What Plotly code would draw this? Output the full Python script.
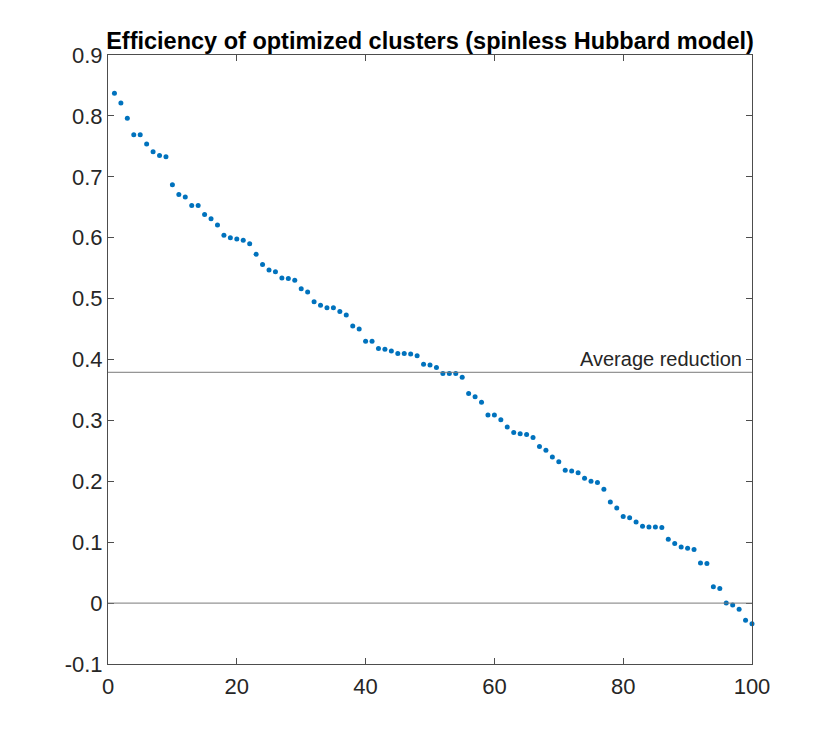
import plotly.graph_objects as go

cluster_index = list(range(1, 101))
efficiency = [
    0.837, 0.821, 0.796, 0.769, 0.769, 0.754, 0.741, 0.735, 0.733, 0.687,
    0.671, 0.667, 0.653, 0.653, 0.638, 0.631, 0.621, 0.604, 0.600, 0.598,
    0.596, 0.590, 0.573, 0.556, 0.547, 0.544, 0.534, 0.533, 0.530, 0.516,
    0.511, 0.495, 0.489, 0.485, 0.485, 0.479, 0.473, 0.455, 0.450, 0.430,
    0.430, 0.418, 0.417, 0.414, 0.410, 0.410, 0.409, 0.406, 0.392, 0.391,
    0.387, 0.377, 0.377, 0.377, 0.371, 0.344, 0.339, 0.330, 0.309, 0.309,
    0.301, 0.289, 0.280, 0.278, 0.277, 0.272, 0.257, 0.251, 0.240, 0.232,
    0.218, 0.217, 0.214, 0.205, 0.200, 0.198, 0.187, 0.166, 0.156, 0.142,
    0.140, 0.133, 0.126, 0.125, 0.125, 0.124, 0.105, 0.098, 0.092, 0.090,
    0.088, 0.066, 0.065, 0.027, 0.024, 0.000, -0.003, -0.010, -0.028, -0.034,
]
average_reduction = 0.379
x_ticks = [0, 20, 40, 60, 80, 100]
y_ticks = [-0.1, 0, 0.1, 0.2, 0.3, 0.4, 0.5, 0.6, 0.7, 0.8, 0.9]
y_tick_labels = ["-0.1", "0", "0.1", "0.2", "0.3", "0.4", "0.5", "0.6", "0.7", "0.8", "0.9"]

axis_color = "#262626"
frame_color = "#4d4d4d"
font_family = "Liberation Sans, Arial, Helvetica, sans-serif"

fig = go.Figure()
fig.add_trace(go.Scatter(
    x=cluster_index, y=efficiency, mode="markers",
    marker=dict(color="#0072BD", size=5, line=dict(width=0)),
    showlegend=False, cliponaxis=False,
))

fig.add_hline(y=average_reduction, line=dict(color="#7a7a7a", width=1))
fig.add_hline(y=0, line=dict(color="#7a7a7a", width=1))

fig.add_annotation(
    x=1, xref="paper", y=average_reduction, yref="y",
    text="Average reduction", showarrow=False,
    xanchor="right", yanchor="bottom", xshift=-8, yshift=0,
    font=dict(family=font_family, size=20, color=axis_color),
)

fig.update_layout(
    width=830, height=747,
    margin=dict(l=100, r=86, t=47, b=91),
    paper_bgcolor="white", plot_bgcolor="white",
    font=dict(family=font_family, color=axis_color),
    title=dict(
        text="<b>Efficiency of optimized clusters (spinless Hubbard model)</b>",
        x=0.5, xref="paper", xanchor="center",
        y=1, yref="paper", yanchor="bottom", pad=dict(b=6),
        font=dict(family=font_family, size=23.5, color="black"),
    ),
)

fig.update_xaxes(
    range=[0, 100], tickvals=x_ticks,
    showgrid=False, zeroline=False,
    showline=True, linecolor=frame_color, linewidth=1, mirror="ticks",
    ticks="inside", ticklen=6, tickcolor=frame_color, ticklabelstandoff=3,
    tickfont=dict(family=font_family, size=22, color=axis_color),
)
fig.update_yaxes(
    range=[-0.1, 0.9], tickvals=y_ticks, ticktext=y_tick_labels,
    showgrid=False, zeroline=False,
    showline=True, linecolor=frame_color, linewidth=1, mirror="ticks",
    ticks="inside", ticklen=6, tickcolor=frame_color,
    tickfont=dict(family=font_family, size=22, color=axis_color),
)

fig.write_html("out.html")
